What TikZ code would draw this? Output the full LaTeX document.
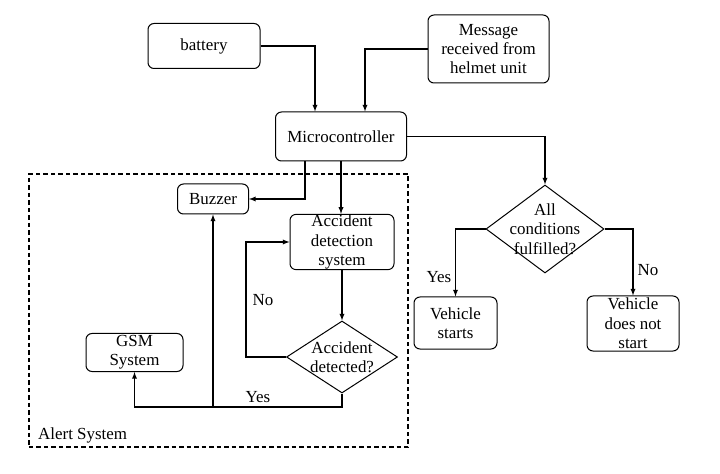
\documentclass[tikz,border=0pt]{standalone}
\usepackage{fontspec}
\setmainfont{Liberation Serif}
\usetikzlibrary{arrows}
\usetikzlibrary{shapes.geometric}

\begin{document}
\begin{tikzpicture} [x=1bp, y=-1bp, font=\fontsize{17}{19.5}\selectfont,
  blk/.style={draw, rounded corners=6bp, align=center, inner sep=0.5bp, line width=1bp},
  dec/.style={draw, diamond, inner sep=0pt, line width=1bp},
  arr/.style={->, >=latex, line width=1.3bp}]
\useasboundingbox (0,0) rectangle (720,474);
% alert system frame
\node[draw, dash pattern=on 4.5bp off 3bp, line width=1.2bp, minimum width=379bp, minimum height=273bp, inner sep=0pt] (alert) at (218.5,310.5) {};
\node[anchor=west, inner sep=0pt] (alertlbl) at (38,435) {Alert System};
% boxes
\node[blk, minimum width=112bp, minimum height=45bp] (bat) at (204,46) {battery};
\node[blk, minimum width=121bp, minimum height=68bp] (msg) at (488.5,49) {Message\\received from\\helmet unit};
\node[blk, minimum width=131bp, minimum height=49bp] (mcu) at (341,136.5) {Microcontroller};
\node[blk, minimum width=71bp, minimum height=30bp] (buz) at (213,199) {Buzzer};
\node[blk, minimum width=104bp, minimum height=54bp] (ads) at (342,242) {Accident\\detection\\system};
\node[dec, minimum width=111bp, minimum height=72bp, label={[align=center]center:Accident\\detected?}] (accd) at (342,357) {};
\node[blk, minimum width=97bp, minimum height=38bp] (gsm) at (134.5,352.5) {GSM\\System};
\node[dec, minimum width=118bp, minimum height=88bp, label={[align=center]center:All\\conditions\\fulfilled?}] (cond) at (545,229) {};
\node[blk, minimum width=83bp, minimum height=52bp] (vs) at (455.5,323) {Vehicle\\starts};
\node[blk, minimum width=92bp, minimum height=55bp] (vdn) at (633,323.5) {Vehicle\\does not\\start};
% connectors
\draw[arr] (bat.east) -| ([xshift=-26bp]mcu.north);
\draw[arr] (msg.west) -| ([xshift=24bp]mcu.north);
\draw[arr] ([xshift=-36bp]mcu.south) |- (buz.east);
\draw[arr] (mcu.south) -- (mcu.south |- ads.north);
\draw[arr] (ads.south) -- (accd.north);
\draw[arr] (accd.west) -- ++(-40,0) |- (ads.west);
\node (no1) at (263,300) {No};
\coordinate (yesrow) at (0,407);
\draw[arr] (accd.south) |- (gsm.south |- yesrow) -- (gsm.south);
\draw[arr] (buz.south |- yesrow) -- (buz.south);
\node (yes1) at (258,397) {Yes};
\draw[arr] (mcu.east) -| (cond.north);
\draw[arr] (cond.west) -| (vs.north);
\draw[arr] (cond.east) -| (vdn.north);
\node (yes2) at (439,277) {Yes};
\node (no2) at (648,270) {No};
\end{tikzpicture}
\end{document}
